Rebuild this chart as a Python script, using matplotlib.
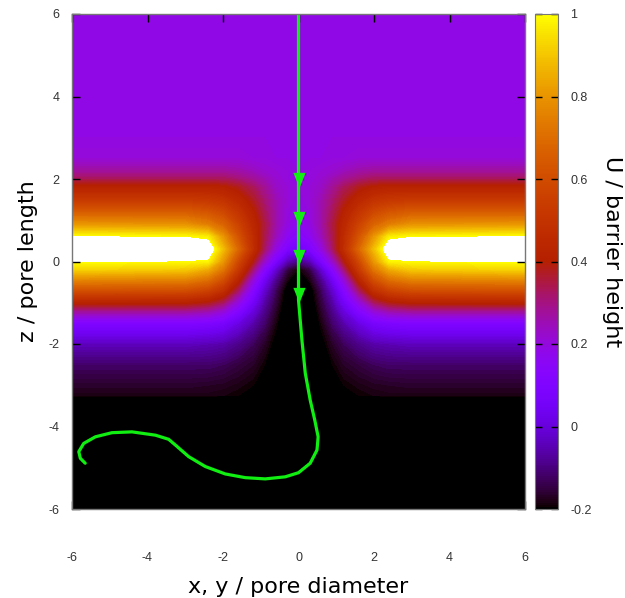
import numpy as np
import matplotlib
matplotlib.use('Agg')
import matplotlib.pyplot as plt
from matplotlib.colors import Normalize
from matplotlib.cm import ScalarMappable
from matplotlib.path import Path

plt.rcParams['axes.unicode_minus'] = False

# potential map, right half (x >= 0), mirrored to the left
x_half = [0, 0.3, 0.6, 0.9, 1.2, 1.6, 2.0, 2.4, 3.0, 6.0]
z_rows = [-6, -3.35, -3.25, -3.0, -2.5, -2.0, -1.5, -1.2, -0.95, -0.7, -0.45,
          -0.2, 0.0, 0.3, 0.6, 0.9, 1.2, 1.5, 1.8, 2.0, 2.2, 2.5, 3.0, 6.0]
U_half = [
    [-0.3] * 10,
    [-0.3] * 10,
    [-0.3, -0.28, -0.25, -0.23, -0.21, -0.2, -0.19, -0.185, -0.185, -0.185],
    [-0.3, -0.28, -0.25, -0.22, -0.2, -0.185, -0.175, -0.17, -0.165, -0.165],
    [-0.3, -0.28, -0.24, -0.2, -0.17, -0.15, -0.13, -0.12, -0.12, -0.12],
    [-0.3, -0.27, -0.22, -0.17, -0.13, -0.09, -0.06, -0.05, -0.04, -0.04],
    [-0.3, -0.26, -0.19, -0.12, -0.06, 0.01, 0.07, 0.09, 0.1, 0.1],
    [-0.3, -0.25, -0.17, -0.09, 0.0, 0.11, 0.21, 0.26, 0.28, 0.28],
    [-0.3, -0.24, -0.15, -0.06, 0.06, 0.21, 0.35, 0.41, 0.44, 0.45],
    [-0.3, -0.23, -0.13, -0.02, 0.12, 0.32, 0.48, 0.56, 0.6, 0.61],
    [-0.25, -0.19, -0.09, 0.04, 0.2, 0.42, 0.6, 0.7, 0.75, 0.76],
    [-0.2, -0.15, -0.02, 0.13, 0.3, 0.52, 0.72, 0.84, 0.9, 0.92],
    [-0.1, -0.05, 0.08, 0.22, 0.38, 0.58, 0.8, 0.98, 0.99, 1.0],
    [0.05, 0.09, 0.19, 0.32, 0.47, 0.68, 0.88, 1.08, 1.2, 1.3],
    [0.12, 0.16, 0.24, 0.34, 0.46, 0.62, 0.8, 0.97, 0.99, 1.0],
    [0.16, 0.19, 0.26, 0.35, 0.44, 0.56, 0.67, 0.74, 0.79, 0.8],
    [0.18, 0.2, 0.26, 0.33, 0.41, 0.5, 0.58, 0.62, 0.65, 0.65],
    [0.19, 0.21, 0.25, 0.31, 0.37, 0.44, 0.49, 0.51, 0.52, 0.52],
    [0.2, 0.21, 0.23, 0.28, 0.33, 0.38, 0.41, 0.42, 0.42, 0.42],
    [0.2, 0.2, 0.22, 0.25, 0.28, 0.31, 0.33, 0.33, 0.33, 0.33],
    [0.19, 0.2, 0.21, 0.22, 0.24, 0.26, 0.27, 0.27, 0.27, 0.27],
    [0.19, 0.19, 0.19, 0.2, 0.2, 0.21, 0.21, 0.21, 0.21, 0.21],
    [0.19] * 10,
    [0.19] * 10,
]

# particle trajectory
traj_x = [0, 0, 0.09, 0.18, 0.31, 0.43, 0.52, 0.49, 0.31, 0.0, -0.35, -0.88,
          -1.41, -1.94, -2.47, -2.91, -3.26, -3.44, -3.79, -4.41, -4.94,
          -5.38, -5.69, -5.82, -5.78, -5.65]
traj_z = [6, -0.93, -1.9, -2.71, -3.36, -3.84, -4.25, -4.57, -4.89, -5.12,
          -5.22, -5.27, -5.24, -5.15, -4.97, -4.73, -4.45, -4.31, -4.21,
          -4.13, -4.15, -4.25, -4.41, -4.61, -4.77, -4.89]
arrow_z = [1.98, 1.02, 0.10, -0.82]

green = '#11ee11'
tick_font = ['Liberation Sans Narrow', 'Liberation Sans', 'DejaVu Sans']

xh = np.array(x_half)
Uh = np.array(U_half)
xs = np.concatenate([-xh[:0:-1], xh])
U = np.hstack([Uh[:, :0:-1], Uh])
zs = np.array(z_rows)

cmap = plt.get_cmap('gnuplot').copy()
cmap.set_over('white')
cmap.set_under('black')
norm = Normalize(vmin=-0.2, vmax=1.0)

fig = plt.figure(figsize=(6.25, 5.98), dpi=100)
ax = fig.add_axes([72 / 625, 89 / 598, 453 / 625, 495 / 598])
cax = fig.add_axes([535 / 625, 89 / 598, 23 / 625, 495 / 598])

ax.contourf(xs, zs, U, levels=np.linspace(-0.2, 1.0, 121), cmap=cmap,
            norm=norm, extend='both')

ax.plot(traj_x, traj_z, color=green, linewidth=2.3, solid_capstyle='round',
        solid_joinstyle='round')
tri = Path([(-0.4, 0.5), (0.4, 0.5), (0, -0.5), (-0.4, 0.5)])
ax.plot([0] * len(arrow_z), arrow_z, linestyle='none', marker=tri,
        markersize=11, color=green, markeredgewidth=0)

ax.set_xlim(-6, 6)
ax.set_ylim(-6, 6)
ax.set_xticks(range(-6, 7, 2))
ax.set_yticks(range(-6, 7, 2))
ax.tick_params(direction='in', top=True, right=True, length=6, width=1,
               color='black', labelcolor='#333333')
ax.tick_params(axis='x', pad=31)
ax.tick_params(axis='y', pad=9)
for lab in ax.get_xticklabels() + ax.get_yticklabels():
    lab.set_family(tick_font)
    lab.set_fontsize(9)
for sp in ax.spines.values():
    sp.set_color('#777777')
    sp.set_linewidth(1)

ax.set_xlabel('x, y / pore diameter', fontsize=16, va='center')
ax.xaxis.set_label_coords(0.5, -0.158)
ax.set_ylabel('z / pore length', fontsize=16, va='center')
ax.yaxis.set_label_coords(-0.098, 0.5)

sm = ScalarMappable(norm=norm, cmap=cmap)
cb = fig.colorbar(sm, cax=cax)
cb.set_ticks([-0.2, 0, 0.2, 0.4, 0.6, 0.8, 1.0])
cb.set_ticklabels(['-0.2', '0', '0.2', '0.4', '0.6', '0.8', '1'])
cb.outline.set_edgecolor('#777777')
cax.tick_params(direction='in', left=True, right=True, length=5, width=1,
                color='black', labelcolor='#333333', pad=9)
for lab in cax.get_yticklabels():
    lab.set_family(tick_font)
    lab.set_fontsize(9)
cb.set_label('U / barrier height', fontsize=16, rotation=-90, va='center')
cax.yaxis.set_label_coords(3.35, 0.52)

fig.savefig('out.png', dpi=100)
